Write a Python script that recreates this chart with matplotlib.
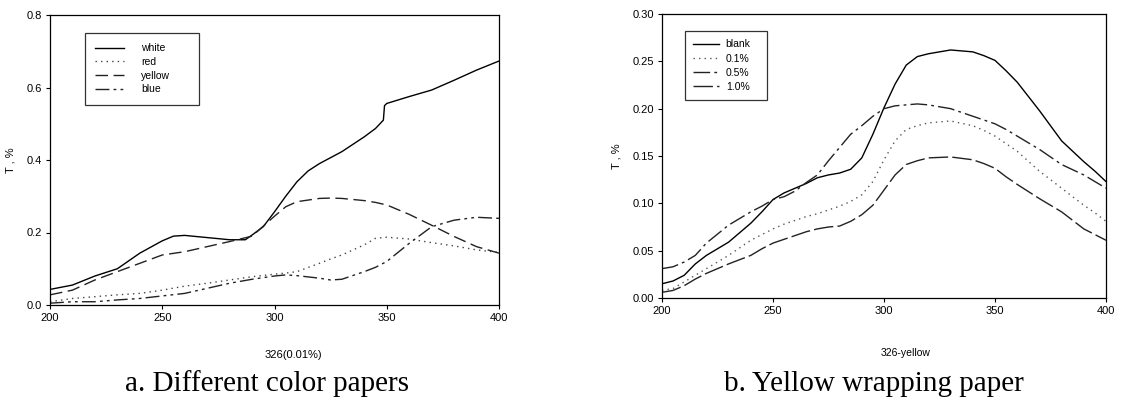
import matplotlib
matplotlib.use("Agg")
import matplotlib.pyplot as plt
import numpy as np

plt.rcParams['font.family'] = ['Liberation Sans', 'DejaVu Sans']

# ---- Panel a: different color papers ----
a_x_white = [200, 210, 220, 230, 240, 250, 255, 260, 270, 280, 287, 290, 295, 300, 305, 310, 315, 320, 330, 340, 345, 348.5, 349, 350, 360, 370, 380, 390, 400]
a_white = [0.043, 0.055, 0.080, 0.100, 0.143, 0.177, 0.190, 0.192, 0.186, 0.180, 0.180, 0.193, 0.216, 0.257, 0.300, 0.340, 0.370, 0.390, 0.423, 0.464, 0.487, 0.510, 0.550, 0.556, 0.575, 0.593, 0.620, 0.648, 0.673]

a_x = [200, 210, 220, 230, 240, 250, 260, 270, 280, 290, 300, 305, 310, 320, 325, 330, 340, 345, 350, 360, 370, 380, 390, 400]
a_red = [0.009, 0.018, 0.023, 0.028, 0.032, 0.041, 0.052, 0.060, 0.069, 0.078, 0.085, 0.088, 0.092, 0.115, 0.127, 0.138, 0.166, 0.184, 0.187, 0.182, 0.172, 0.163, 0.152, 0.145]
a_yellow = [0.028, 0.041, 0.069, 0.092, 0.115, 0.138, 0.147, 0.161, 0.175, 0.190, 0.245, 0.271, 0.285, 0.294, 0.295, 0.294, 0.288, 0.283, 0.276, 0.250, 0.220, 0.189, 0.161, 0.143]
a_blue = [0.005, 0.009, 0.009, 0.014, 0.018, 0.025, 0.032, 0.046, 0.060, 0.071, 0.080, 0.083, 0.081, 0.074, 0.069, 0.071, 0.092, 0.104, 0.120, 0.170, 0.216, 0.234, 0.242, 0.239]

a_labels = ["white", "red", "yellow", "blue"]
a_xlabel = "326(0.01%)"
a_caption = "a. Different color papers"
a_yticks = [0.0, 0.2, 0.4, 0.6, 0.8]
a_yticklabels = ["0.0", "0.2", "0.4", "0.6", "0.8"]

# ---- Panel b: yellow wrapping paper ----
b_x = [200, 205, 210, 215, 220, 230, 240, 245, 250, 255, 260, 265, 270, 275, 280, 285, 290, 295, 300, 305, 310, 315, 320, 330, 340, 345, 350, 355, 360, 370, 380, 390, 395, 400]
b_blank = [0.015, 0.018, 0.024, 0.036, 0.045, 0.059, 0.079, 0.091, 0.104, 0.111, 0.116, 0.121, 0.127, 0.130, 0.132, 0.136, 0.148, 0.173, 0.201, 0.226, 0.246, 0.255, 0.258, 0.262, 0.260, 0.256, 0.251, 0.240, 0.228, 0.198, 0.166, 0.144, 0.134, 0.123]
b_p01 = [0.008, 0.010, 0.017, 0.024, 0.031, 0.045, 0.061, 0.067, 0.073, 0.078, 0.082, 0.086, 0.089, 0.093, 0.097, 0.102, 0.109, 0.123, 0.146, 0.166, 0.178, 0.182, 0.185, 0.187, 0.182, 0.177, 0.171, 0.163, 0.155, 0.134, 0.116, 0.098, 0.090, 0.081]
b_p05 = [0.031, 0.033, 0.038, 0.045, 0.058, 0.077, 0.091, 0.097, 0.104, 0.107, 0.113, 0.122, 0.130, 0.145, 0.159, 0.173, 0.182, 0.192, 0.200, 0.203, 0.204, 0.205, 0.204, 0.200, 0.192, 0.188, 0.184, 0.178, 0.171, 0.157, 0.141, 0.130, 0.123, 0.116]
b_p10 = [0.006, 0.008, 0.013, 0.020, 0.026, 0.036, 0.045, 0.052, 0.058, 0.062, 0.066, 0.070, 0.073, 0.075, 0.076, 0.081, 0.088, 0.098, 0.114, 0.130, 0.141, 0.145, 0.148, 0.149, 0.146, 0.142, 0.137, 0.128, 0.120, 0.105, 0.091, 0.073, 0.067, 0.061]

b_labels = ["blank", "0.1%", "0.5%", "1.0%"]
b_xlabel = "326-yellow"
b_caption = "b. Yellow wrapping paper"
b_yticks = [0.00, 0.05, 0.10, 0.15, 0.20, 0.25, 0.30]
b_yticklabels = ["0.00", "0.05", "0.10", "0.15", "0.20", "0.25", "0.30"]

xticks = [200, 250, 300, 350, 400]

W, H = 1126, 400
fig = plt.figure(figsize=(W / 100, H / 100), dpi=100)

def box(l, t, r, b):
    return [l / W, 1 - b / H, (r - l) / W, (b - t) / H]

ax1 = fig.add_axes(box(50, 15, 499, 305))
ax2 = fig.add_axes(box(662, 14, 1106, 298))

lw = 1.0
ax1.plot(a_x_white, a_white, color='black', lw=lw, ls='-', label=a_labels[0])
ax1.plot(a_x, a_red, color='#444444', lw=lw, ls=(0, (1, 3)), label=a_labels[1])
ax1.plot(a_x, a_yellow, color='#222222', lw=lw, ls=(0, (9, 4)), label=a_labels[2])
ax1.plot(a_x, a_blue, color='#222222', lw=lw, ls=(0, (10, 3, 2, 3, 2, 3)), label=a_labels[3])

ax2.plot(b_x, b_blank, color='black', lw=lw, ls='-', label=b_labels[0])
ax2.plot(b_x, b_p01, color='#555555', lw=lw, ls=(0, (1, 3)), label=b_labels[1])
ax2.plot(b_x, b_p05, color='#222222', lw=lw, ls=(0, (12, 3, 2, 3)), label=b_labels[2])
ax2.plot(b_x, b_p10, color='#222222', lw=lw, ls=(0, (14, 3)), label=b_labels[3])

for ax, yt, ytl, ymax, xl in [(ax1, a_yticks, a_yticklabels, 0.8, a_xlabel),
                              (ax2, b_yticks, b_yticklabels, 0.30, b_xlabel)]:
    ax.set_xlim(200, 400)
    ax.set_ylim(0, ymax)
    ax.set_xticks(xticks)
    ax.set_xticklabels([str(v) for v in xticks])
    ax.set_yticks(yt)
    ax.set_yticklabels(ytl)
    ax.tick_params(direction='out', length=3, width=0.8, labelsize=8, pad=3)
    for s in ax.spines.values():
        s.set_linewidth(0.9)
    ax.set_ylabel("T , %", fontsize=8, labelpad=8)

# legend boxes: left 85-199 px wide, right 685-767 px wide
leg1 = ax1.legend(loc='upper left', bbox_to_anchor=(0.078, 0.938, 0.254, 0.0), mode='expand',
                  borderaxespad=0, fontsize=7.5, frameon=True, fancybox=False,
                  edgecolor='black', handlelength=2.7, handletextpad=1.7, borderpad=1.0,
                  labelspacing=0.35)
leg1.get_frame().set_linewidth(0.9)
leg2 = ax2.legend(loc='upper left', bbox_to_anchor=(0.052, 0.94, 0.185, 0.0), mode='expand',
                  borderaxespad=0, fontsize=7.5, frameon=True, fancybox=False,
                  edgecolor='black', handlelength=2.5, handletextpad=0.6, borderpad=0.8,
                  labelspacing=0.4)
leg2.get_frame().set_linewidth(0.9)

fig.text(293 / W, 1 - 355 / H, a_xlabel, ha='center', va='center', fontsize=8)
fig.text(906 / W, 1 - 353 / H, b_xlabel, ha='center', va='center', fontsize=7.5)
fig.text(267 / W, 1 - 384 / H, a_caption, ha='center', va='center', fontsize=21,
         family=['Liberation Serif', 'DejaVu Serif'])
fig.text(874 / W, 1 - 384 / H, b_caption, ha='center', va='center', fontsize=21,
         family=['Liberation Serif', 'DejaVu Serif'])

fig.savefig("out.png", dpi=100)
